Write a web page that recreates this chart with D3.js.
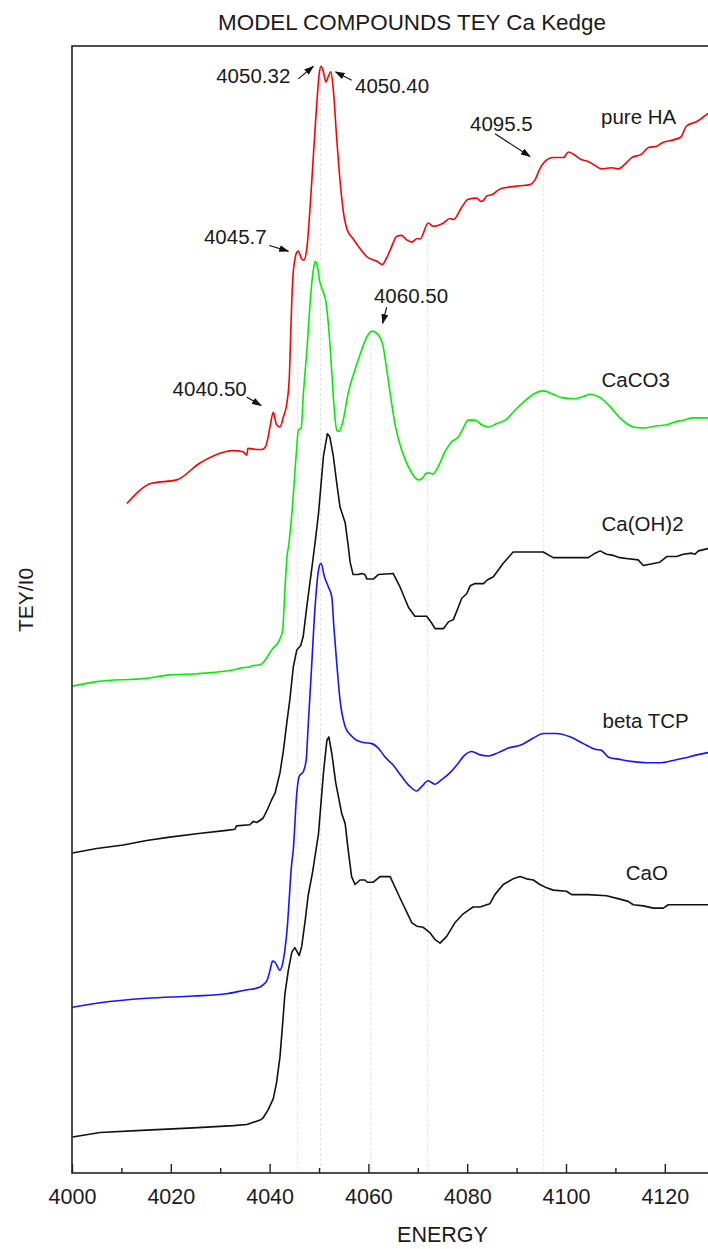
<!DOCTYPE html>
<html>
<head>
<meta charset="utf-8">
<script src="https://cdn.jsdelivr.net/npm/d3@7"></script>
<style>
  html, body { margin: 0; padding: 0; background: #fff; overflow: hidden; }
  text { font-family: Arial, "Liberation Sans", sans-serif; fill: #1a1a1a; }
</style>
</head>
<body>
<svg id="chart" width="708" height="1249"></svg>
<script>
// ---- Ca K-edge TEY spectra (energy in eV, TEY/I0 with vertical offsets) ----
const pureHA = [[4011.1,5.94],[4016.1,6.12],[4021.2,6.15],[4025.9,6.30],[4031.0,6.40],[4032.6,6.41],[4034.6,6.40],[4035.4,6.37],[4035.6,6.43],[4037.4,6.42],[4038.4,6.42],[4039.1,6.44],[4039.7,6.53],[4040.2,6.65],[4040.75,6.75],[4041.4,6.64],[4042.1,6.62],[4042.8,6.71],[4043.5,6.83],[4044.0,7.07],[4044.3,7.48],[4044.5,7.75],[4044.8,8.00],[4045.1,8.10],[4045.4,8.16],[4045.8,8.18],[4046.5,8.11],[4046.9,8.10],[4047.5,8.19],[4048.2,8.57],[4048.85,9.02],[4049.5,9.46],[4050.06,9.76],[4050.4,9.82],[4050.9,9.77],[4051.4,9.68],[4051.9,9.73],[4052.4,9.77],[4052.9,9.61],[4053.6,9.17],[4054.25,8.81],[4054.9,8.54],[4055.7,8.37],[4056.9,8.29],[4058.0,8.22],[4059.7,8.13],[4061.7,8.09],[4062.8,8.06],[4063.7,8.12],[4064.7,8.22],[4065.7,8.31],[4066.7,8.32],[4067.75,8.28],[4068.8,8.26],[4069.8,8.29],[4070.5,8.29],[4072.1,8.43],[4073.1,8.40],[4075.2,8.43],[4076.5,8.47],[4077.2,8.46],[4078.9,8.57],[4080.2,8.64],[4081.9,8.65],[4082.8,8.62],[4083.3,8.63],[4084.0,8.67],[4085.0,8.68],[4086.6,8.73],[4088.7,8.75],[4090.7,8.76],[4092.7,8.77],[4093.7,8.81],[4094.7,8.91],[4096.1,8.99],[4097.4,9.01],[4099.5,9.01],[4100.5,9.06],[4101.5,9.04],[4103.2,8.99],[4104.2,8.98],[4105.5,8.95],[4107.2,8.91],[4109.25,8.92],[4110.6,8.91],[4111.9,8.95],[4113.3,9.01],[4115.3,9.04],[4116.7,9.10],[4118.4,9.11],[4119.4,9.14],[4121.05,9.16],[4123.2,9.19],[4124.4,9.29],[4126.5,9.33],[4128.7,9.40],[4130.2,9.45]];

const caCO3 = [[4000.1,4.32],[4005.0,4.36],[4015.1,4.39],[4019.8,4.42],[4025.2,4.43],[4033.3,4.47],[4034.0,4.48],[4036.0,4.49],[4036.4,4.50],[4038.1,4.51],[4038.7,4.53],[4039.4,4.57],[4040.4,4.64],[4042.1,4.74],[4042.65,4.82],[4043.1,5.17],[4043.6,5.50],[4043.8,5.55],[4044.5,5.85],[4045.5,6.44],[4045.8,6.59],[4046.4,6.61],[4046.8,6.89],[4047.6,7.33],[4048.3,7.78],[4048.85,8.01],[4049.25,8.09],[4049.7,8.04],[4050.1,7.92],[4050.75,7.83],[4051.4,7.73],[4052.0,7.48],[4052.6,7.10],[4053.1,6.77],[4053.6,6.59],[4054.1,6.58],[4054.9,6.68],[4055.9,6.92],[4057.3,7.13],[4058.3,7.26],[4059.7,7.42],[4060.7,7.47],[4061.7,7.45],[4062.9,7.35],[4063.7,7.13],[4064.4,6.92],[4065.4,6.64],[4066.7,6.42],[4068.4,6.24],[4070.1,6.15],[4070.8,6.16],[4071.8,6.21],[4072.5,6.21],[4073.0,6.20],[4074.15,6.27],[4075.5,6.40],[4076.9,6.49],[4078.2,6.53],[4079.2,6.61],[4080.2,6.68],[4081.6,6.68],[4082.9,6.64],[4084.3,6.62],[4086.0,6.65],[4088.0,6.69],[4089.7,6.77],[4091.4,6.84],[4093.4,6.91],[4095.4,6.94],[4097.4,6.91],[4099.1,6.88],[4101.5,6.87],[4103.5,6.89],[4104.9,6.91],[4106.9,6.88],[4108.9,6.80],[4110.9,6.70],[4113.6,6.62],[4115.65,6.61],[4118.4,6.63],[4120.4,6.64],[4121.7,6.66],[4123.75,6.68],[4125.8,6.70],[4128.7,6.70],[4131.2,6.70]];

const caOH2 = [[4000.1,2.84],[4005.0,2.88],[4010.4,2.91],[4015.1,2.95],[4019.8,2.98],[4025.2,3.01],[4031.3,3.04],[4033.0,3.05],[4033.3,3.08],[4036.0,3.09],[4036.7,3.12],[4037.4,3.11],[4038.1,3.13],[4038.7,3.15],[4039.4,3.21],[4040.4,3.31],[4041.1,3.37],[4042.1,3.55],[4042.8,3.75],[4043.5,4.00],[4044.1,4.20],[4044.8,4.49],[4045.5,4.64],[4046.3,4.68],[4046.8,4.76],[4047.6,5.05],[4048.5,5.35],[4049.2,5.59],[4049.9,5.85],[4050.9,6.36],[4051.7,6.56],[4052.2,6.53],[4052.9,6.36],[4053.6,6.12],[4054.25,5.91],[4055.3,5.77],[4055.9,5.57],[4056.3,5.42],[4056.9,5.31],[4058.0,5.31],[4058.6,5.32],[4059.3,5.31],[4059.7,5.27],[4061.0,5.27],[4062.0,5.31],[4065.0,5.32],[4066.4,5.20],[4068.1,5.02],[4069.4,4.94],[4071.8,4.94],[4072.8,4.88],[4073.5,4.83],[4075.2,4.83],[4076.2,4.89],[4077.2,4.91],[4078.2,5.02],[4078.9,5.10],[4079.9,5.14],[4080.6,5.21],[4081.6,5.23],[4083.3,5.23],[4084.0,5.26],[4085.3,5.29],[4087.3,5.41],[4089.3,5.51],[4095.4,5.51],[4097.4,5.46],[4104.5,5.46],[4105.9,5.50],[4106.9,5.52],[4108.2,5.49],[4109.6,5.48],[4110.9,5.46],[4112.6,5.45],[4114.6,5.44],[4115.65,5.39],[4116.7,5.40],[4119.0,5.42],[4120.4,5.47],[4122.4,5.47],[4123.75,5.49],[4125.45,5.50],[4126.1,5.49],[4126.8,5.52],[4128.7,5.54],[4131.2,5.56]];

const betaTCP = [[4000.1,1.47],[4005.7,1.51],[4015.1,1.55],[4024.55,1.57],[4031.3,1.59],[4034.7,1.62],[4038.1,1.65],[4038.7,1.67],[4039.5,1.71],[4040.1,1.80],[4040.6,1.88],[4041.1,1.87],[4042.1,1.80],[4042.65,1.86],[4043.1,1.98],[4043.6,2.19],[4044.0,2.45],[4044.4,2.71],[4044.8,2.87],[4045.5,3.37],[4046.0,3.52],[4046.8,3.56],[4047.4,3.66],[4047.8,3.96],[4048.5,4.49],[4049.2,5.02],[4049.9,5.35],[4050.4,5.41],[4051.1,5.29],[4051.9,5.20],[4052.6,5.11],[4053.0,4.85],[4053.6,4.52],[4054.25,4.20],[4055.3,3.96],[4056.3,3.89],[4057.6,3.84],[4059.0,3.82],[4060.7,3.81],[4062.0,3.77],[4063.4,3.69],[4065.0,3.62],[4066.7,3.52],[4068.4,3.43],[4069.8,3.39],[4070.8,3.43],[4072.1,3.48],[4073.5,3.45],[4074.8,3.49],[4076.5,3.55],[4077.9,3.62],[4079.55,3.71],[4080.9,3.74],[4082.6,3.71],[4084.3,3.70],[4086.3,3.73],[4088.3,3.77],[4091.0,3.80],[4093.4,3.86],[4095.4,3.90],[4098.1,3.90],[4100.8,3.87],[4103.5,3.81],[4105.9,3.76],[4107.2,3.75],[4108.6,3.69],[4110.9,3.67],[4113.6,3.65],[4116.3,3.64],[4119.0,3.64],[4121.7,3.66],[4123.75,3.68],[4126.5,3.71],[4128.7,3.73],[4131.2,3.76]];

const caO = [[4000.1,0.32],[4005.7,0.36],[4015.1,0.38],[4024.55,0.40],[4032.65,0.42],[4035.4,0.43],[4036.0,0.44],[4038.1,0.47],[4038.7,0.49],[4039.7,0.56],[4040.75,0.66],[4041.4,0.80],[4042.1,1.03],[4042.65,1.33],[4043.1,1.59],[4043.8,1.80],[4044.5,1.96],[4045.1,2.00],[4046.0,1.93],[4046.5,2.01],[4047.2,2.24],[4047.8,2.46],[4048.7,2.67],[4049.9,3.01],[4050.9,3.55],[4051.6,3.84],[4052.0,3.87],[4052.6,3.72],[4053.4,3.46],[4054.6,3.19],[4055.3,3.10],[4055.9,2.87],[4056.6,2.63],[4057.3,2.56],[4058.3,2.60],[4059.3,2.60],[4059.8,2.58],[4061.0,2.58],[4062.35,2.63],[4064.4,2.63],[4066.4,2.44],[4068.8,2.22],[4069.8,2.19],[4071.1,2.18],[4072.5,2.13],[4073.5,2.07],[4074.5,2.04],[4075.85,2.10],[4077.5,2.22],[4079.2,2.30],[4080.2,2.33],[4081.2,2.36],[4082.6,2.36],[4083.95,2.38],[4084.6,2.39],[4085.6,2.47],[4087.3,2.56],[4089.3,2.61],[4090.7,2.63],[4092.0,2.61],[4093.4,2.60],[4094.7,2.56],[4096.1,2.53],[4097.4,2.51],[4100.1,2.50],[4101.15,2.47],[4104.5,2.47],[4108.2,2.46],[4110.9,2.43],[4112.6,2.41],[4113.6,2.38],[4115.65,2.37],[4117.7,2.35],[4119.7,2.35],[4120.7,2.38],[4128.7,2.38],[4131.2,2.38]];

const seriesNames = ["pure HA", "CaCO3", "Ca(OH)2", "beta TCP", "CaO"];
const seriesColors = ["#ff0000", "#00ee00", "#111111", "#1515ff", "#111111"];
const seriesData = [pureHA, caCO3, caOH2, betaTCP, caO];

// Major / minor tick values on the energy axis
const majorTicks = [4000, 4020, 4040, 4060, 4080, 4100, 4120];
const minorTicks = [4010, 4030, 4050, 4070, 4090, 4110];

// Peak energies marked with drop lines (and the curve they drop from)
const markEnergies = [4045.7, 4050.32, 4060.5, 4072, 4095.5];
const markSeries   = ["pure HA", "pure HA", "CaCO3", "pure HA", "pure HA"];

// Peak annotations: label text and the energy / value the arrow points at
const noteTexts  = ["4050.32", "4050.40", "4045.7", "4095.5", "4060.50", "4040.50"];
const noteTarget = [[4048.85, 9.82], [4053.38, 9.77], [4043.78, 8.18], [4092.71, 9.02], [4062.89, 7.54], [4038.26, 6.81]];

// Series label anchor points (energy, value)
const labelAt = [[4107.1, 9.31], [4107.2, 6.97], [4107.2, 5.70], [4107.4, 3.95], [4112.1, 2.60]];

// ---- layout ----
const plot = { left: 72, top: 46, right: 813, bottom: 1173 };
const svg = d3.select("#chart");

const x = d3.scaleLinear().domain([4000, 4150]).range([plot.left, plot.right]);
const y = d3.scaleLinear().domain([0, 10]).range([plot.bottom, plot.top]);

// Arrow-head marker
svg.append("defs").append("marker")
  .attr("id", "arrowhead")
  .attr("markerUnits", "userSpaceOnUse")
  .attr("markerWidth", 10).attr("markerHeight", 7)
  .attr("refX", 9).attr("refY", 3.5)
  .attr("orient", "auto")
  .append("path").attr("d", "M0,0 L10,3.5 L0,7 Z").attr("fill", "#111");

svg.append("clipPath").attr("id", "plotClip")
  .append("rect")
  .attr("x", plot.left).attr("y", plot.top)
  .attr("width", plot.right - plot.left).attr("height", plot.bottom - plot.top);

function valueAt(data, e) {
  const i = d3.bisector(d => d[0]).left(data, e);
  if (i <= 0) return data[0][1];
  if (i >= data.length) return data[data.length - 1][1];
  const a = data[i - 1], b = data[i];
  return a[1] + (b[1] - a[1]) * (e - a[0]) / (b[0] - a[0]);
}

// Drop lines from marked peaks to the energy axis
const drops = svg.append("g").attr("clip-path", "url(#plotClip)");
markEnergies.forEach((e, i) => {
  const data = seriesData[seriesNames.indexOf(markSeries[i])];
  drops.append("line")
    .attr("x1", x(e)).attr("x2", x(e))
    .attr("y1", y(valueAt(data, e))).attr("y2", y(0))
    .attr("stroke", "#e0e0e0").attr("stroke-width", 1)
    .attr("stroke-dasharray", "3,2");
});

// Spectra
const curves = svg.append("g").attr("clip-path", "url(#plotClip)");
seriesData.forEach((data, i) => {
  const smooth = seriesColors[i] !== "#111111";
  const line = d3.line()
    .x(d => x(d[0])).y(d => y(d[1]))
    .curve(smooth ? d3.curveMonotoneX : d3.curveLinear);
  curves.append("path")
    .datum(data)
    .attr("d", line)
    .attr("fill", "none")
    .attr("stroke", seriesColors[i])
    .attr("stroke-width", 1.6)
    .attr("stroke-linejoin", "round");
});

// Frame
svg.append("rect")
  .attr("x", plot.left).attr("y", plot.top)
  .attr("width", plot.right - plot.left).attr("height", plot.bottom - plot.top)
  .attr("fill", "none").attr("stroke", "#222").attr("stroke-width", 1.6);

// Energy axis (ticks point inward)
const axisMajor = svg.append("g")
  .attr("transform", `translate(0,${plot.bottom})`)
  .call(d3.axisBottom(x).tickValues(majorTicks).tickSize(-9).tickPadding(16).tickFormat(d3.format("d")));
axisMajor.select(".domain").remove();
axisMajor.selectAll(".tick line").attr("stroke", "#222").attr("stroke-width", 1.4);
axisMajor.selectAll(".tick text")
  .attr("font-size", 21.5).attr("font-family", "Arial, 'Liberation Sans', sans-serif").attr("fill", "#1a1a1a");

const axisMinor = svg.append("g")
  .attr("transform", `translate(0,${plot.bottom})`)
  .call(d3.axisBottom(x).tickValues(minorTicks).tickSize(-5).tickFormat(""));
axisMinor.select(".domain").remove();
axisMinor.selectAll(".tick line").attr("stroke", "#222").attr("stroke-width", 1.4);

// Titles
svg.append("text")
  .attr("x", 412).attr("y", 30)
  .attr("text-anchor", "middle")
  .attr("font-size", 22.4)
  .text("MODEL COMPOUNDS TEY Ca Kedge");

svg.append("text")
  .attr("x", (plot.left + plot.right) / 2).attr("y", 1242)
  .attr("text-anchor", "middle")
  .attr("font-size", 21.5)
  .text("ENERGY");

svg.append("text")
  .attr("transform", "translate(33,600) rotate(-90)")
  .attr("text-anchor", "middle")
  .attr("font-size", 21)
  .text("TEY/I0");

// Series labels
seriesNames.forEach((name, i) => {
  svg.append("text")
    .attr("x", x(labelAt[i][0])).attr("y", y(labelAt[i][1]))
    .attr("font-size", 20.5)
    .text(name);
});

// Peak annotations: [tail dx, tail dy, text dx, text dy, anchor] relative to the arrow tip
const noteLayout = [
  [-15, 12.6, -23, 16.3, "end"],
  [16, 8.4, 19.3, 20.7, "start"],
  [-19, -5.7, -21.6, -6.7, "end"],
  [-35, -22.7, -60, -25, "start"],
  [4, -16, -8.7, -20.3, "start"],
  [-14.3, -8.6, -14.3, -9.3, "end"]
];
const notes = svg.append("g");
noteTexts.forEach((t, i) => {
  const tx = x(noteTarget[i][0]), ty = y(noteTarget[i][1]);
  const L = noteLayout[i];
  notes.append("line")
    .attr("x1", tx + L[0]).attr("y1", ty + L[1])
    .attr("x2", tx).attr("y2", ty)
    .attr("stroke", "#111").attr("stroke-width", 1.1)
    .attr("marker-end", "url(#arrowhead)");
  notes.append("text")
    .attr("x", tx + L[2]).attr("y", ty + L[3])
    .attr("text-anchor", L[4])
    .attr("font-size", 20.5)
    .text(t);
});
</script>
</body>
</html>
